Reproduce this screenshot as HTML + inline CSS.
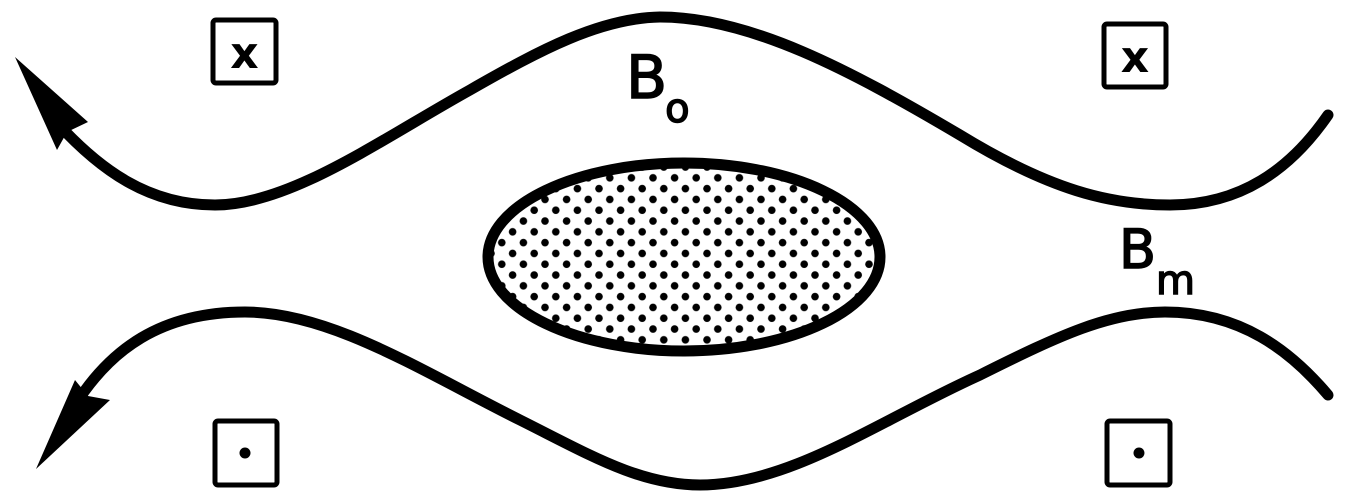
<!DOCTYPE html>
<html><head><meta charset="utf-8"><style>
html,body{margin:0;padding:0;background:#fff;width:1356px;height:503px;overflow:hidden}
svg{display:block}
text{font-family:"DejaVu Sans","Liberation Sans",sans-serif;fill:#000}
</style></head><body>
<svg width="1356" height="503" viewBox="0 0 1356 503">
<defs>
<pattern id="dots" width="21.6" height="21.6" patternUnits="userSpaceOnUse" x="0" y="0">
<circle cx="5" cy="5" r="3.8" fill="#000"/>
<circle cx="15.8" cy="15.8" r="3.8" fill="#000"/>
</pattern>
</defs>
<g fill="none" stroke="#000" stroke-width="11" stroke-linecap="round">
<path d="M 50 115 C 100 172, 150 205, 215 205 C 290 205, 380 140, 470 90 C 540 50, 600 18, 660 17 C 750 17, 850 70, 960 135 C 1050 190, 1110 205, 1170 205 C 1240 205, 1290 170, 1328 115"/>
<path d="M 75 405 C 110 350, 160 312, 245 312 C 330 312, 420 370, 520 420 C 590 455, 640 485, 700 485 C 790 485, 880 420, 980 375 C 1060 335, 1110 312, 1165 312 C 1240 312, 1290 350, 1328 395"/>
</g>
<polygon points="15,57 88,122 67,132 57,150" fill="#000"/>
<polygon points="36,469 75,380 88,396 110,400" fill="#000"/>
<ellipse cx="684" cy="257" rx="196" ry="94" fill="url(#dots)" stroke="#000" stroke-width="11"/>
<g>
<rect x="213" y="20" width="63" height="63" fill="none" stroke="#000" stroke-width="5" rx="3"/>
<text x="244.5" y="68" font-size="44" font-weight="bold" text-anchor="middle">x</text>
</g>
<g>
<rect x="1104" y="24" width="62" height="63" fill="none" stroke="#000" stroke-width="5" rx="3"/>
<text x="1135" y="72" font-size="44" font-weight="bold" text-anchor="middle">x</text>
</g>
<g>
<rect x="215" y="421" width="62" height="64" fill="none" stroke="#000" stroke-width="5" rx="3"/>
<circle cx="245" cy="453" r="5.5" fill="#000"/>
</g>
<g>
<rect x="1107" y="421" width="63" height="64" fill="none" stroke="#000" stroke-width="5" rx="3"/>
<circle cx="1139" cy="453" r="5.5" fill="#000"/>
</g>
<text x="626" y="98" font-size="60" stroke="#000" stroke-width="1.5">B<tspan font-size="40" dx="-2" dy="24">o</tspan></text>
<text x="1119" y="268" font-size="54" stroke="#000" stroke-width="1.5">B<tspan font-size="40" dx="0" dy="26">m</tspan></text>
</svg>
</body></html>
